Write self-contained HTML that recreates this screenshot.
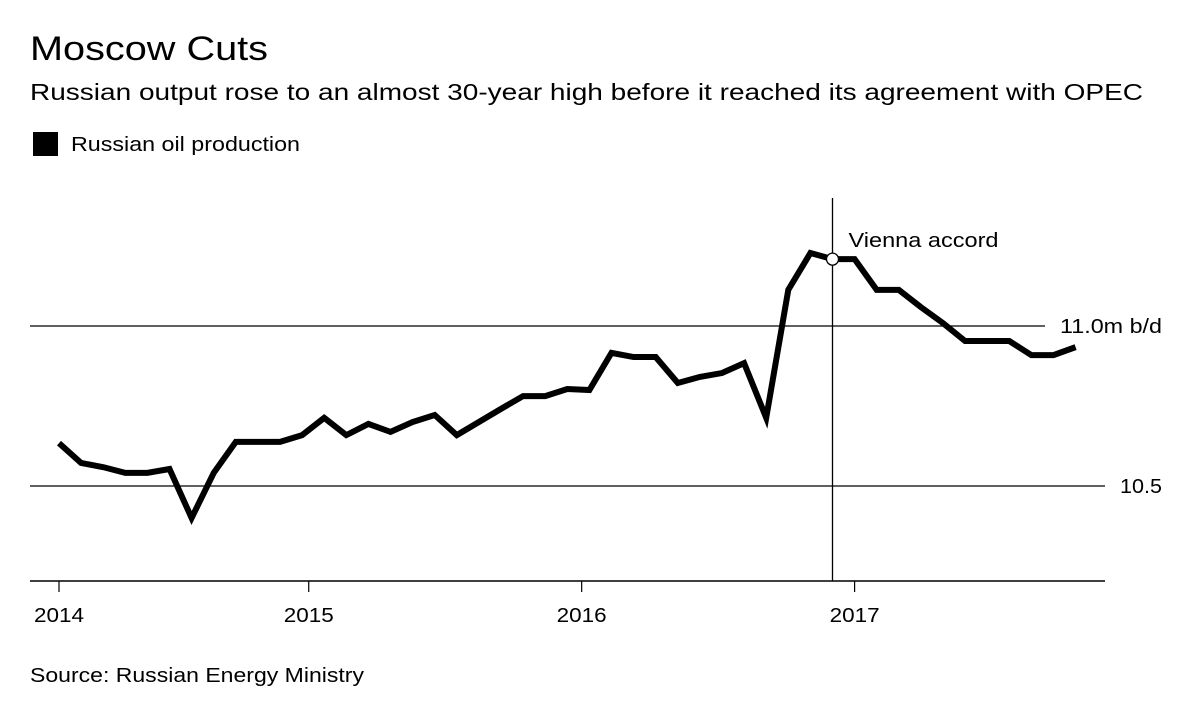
<!DOCTYPE html>
<html><head><meta charset="utf-8"><style>
body{margin:0;background:#fff;width:1200px;height:710px;overflow:hidden;font-family:"Liberation Sans",Arial,sans-serif;color:#000}
svg{position:absolute;left:0;top:0}
</style></head><body>
<svg width="1200" height="710">
<text x="30" y="60" font-size="34" textLength="238" lengthAdjust="spacingAndGlyphs">Moscow Cuts</text>
<text x="30" y="100" font-size="23" textLength="1113" lengthAdjust="spacingAndGlyphs">Russian output rose to an almost 30-year high before it reached its agreement with OPEC</text>
<rect x="33" y="132" width="25" height="24" fill="#000"/>
<text x="71" y="151" font-size="20.5" textLength="229" lengthAdjust="spacingAndGlyphs">Russian oil production</text>
<g id="plot"></g>
<text x="30" y="682" font-size="20.5" textLength="334" lengthAdjust="spacingAndGlyphs">Source: Russian Energy Ministry</text>
</svg>
<script>
const values=[10.634,10.572,10.559,10.541,10.541,10.553,10.40,10.541,10.638,10.638,10.638,10.659,10.713,10.659,10.694,10.669,10.70,10.722,10.659,10.70,10.741,10.781,10.781,10.803,10.80,10.916,10.903,10.903,10.822,10.841,10.853,10.884,10.713,11.113,11.228,11.209,11.209,11.113,11.113,11.059,11.009,10.953,10.953,10.953,10.909,10.909,10.934];
const tickMonths=[0,11.3,23.65,36.0];
const tickLabels=["2014","2015","2016","2017"];
const yTicks=[10.5,11.0];
const yTickLabels=["10.5","11.0m b/d"];
const eventIndex=35;
const eventLabel="Vienna accord";
const NS="http://www.w3.org/2000/svg";
const g=document.getElementById('plot');
const x=m=>59+m*22.1;
const y=v=>486-(v-10.5)*320;
function mk(t,a){const e=document.createElementNS(NS,t);for(const k in a)e.setAttribute(k,a[k]);g.appendChild(e);return e;}
yTicks.forEach((v,i)=>{
 const end=i===0?1105:1045;
 const l=mk('line',{x1:30,x2:end,y1:y(v),y2:y(v),stroke:'#000','stroke-width':1.3});
 
 
 const t=mk('text',{x:end+15,y:y(v)+7,'font-size':20,textLength:i===0?42:102,lengthAdjust:'spacingAndGlyphs'});
 t.textContent=yTickLabels[i];
 
 
});
const base=mk('line',{x1:30,x2:1105,y1:581,y2:581,stroke:'#000','stroke-width':1.5});


tickMonths.forEach((m,i)=>{
 const tk=mk('line',{x1:x(m),x2:x(m),y1:581,y2:592,stroke:'#000','stroke-width':1.2});
 
 
 const t=mk('text',{x:x(m),y:622,'font-size':20,'text-anchor':'middle',textLength:50,lengthAdjust:'spacingAndGlyphs'});
 t.textContent=tickLabels[i];
 
 
});
const vx=x(eventIndex);
const vl=mk('line',{x1:vx,x2:vx,y1:198,y2:581,stroke:'#000','stroke-width':1.3});


const p=mk('polyline',{points:values.map((v,i)=>x(i)+','+y(v)).join(' '),fill:'none',stroke:'#000','stroke-width':6,'stroke-linejoin':'miter'});


const c=mk('circle',{cx:vx,cy:y(values[eventIndex]),r:6,fill:'#fff',stroke:'#000','stroke-width':1.3});


const et=mk('text',{x:vx+16,y:247,'font-size':20.5,textLength:150,lengthAdjust:'spacingAndGlyphs'});
et.textContent=eventLabel;


</script>
</body></html>
